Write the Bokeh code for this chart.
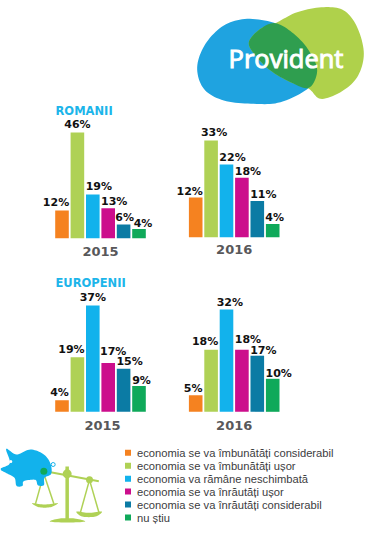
from bokeh.plotting import figure
from bokeh.models import Range1d
from bokeh.embed import file_html
from bokeh.resources import INLINE
from bokeh.core.properties import value
import numpy as np

# ---- data ----
categories = ["economia se va îmbunătăți considerabil", "economia se va îmbunătăți ușor",
              "economia va rămâne neschimbată", "economia se va înrăutăți ușor",
              "economia se va înrăutăți considerabil", "nu știu"]
colors = ["#f58220", "#afd155", "#12b2ec", "#cc0e8c", "#0b7ba4", "#0fa95a"]
ro15_labels = ["12%", "46%", "19%", "13%", "6%", "4%"]
ro15_values = [12, 46, 19, 13, 6, 4]
ro16_labels = ["12%", "33%", "22%", "18%", "11%", "4%"]
ro16_values = [12, 29.3, 22, 18, 11, 4]
eu15_labels = ["4%", "19%", "37%", "17%", "15%", "9%"]
eu15_values = [4, 19, 37, 17, 15, 9]
eu16_labels = ["5%", "18%", "32%", "18%", "17%", "10%"]
eu16_values = [5, 18.8, 31, 18.8, 17, 10]

W, H = 377, 535
p = figure(width=W, height=H, output_backend="svg", toolbar_location=None,
           x_range=Range1d(0, W), y_range=Range1d(H, 0), min_border=0,
           outline_line_color=None, background_fill_color="white")
p.margin = (0, 0, 0, 0)
p.axis.visible = False
p.grid.visible = False

def smooth(pts, n=10):
    pts = np.array(pts, float)
    out = []
    m = len(pts)
    for i in range(m):
        a, b, c, d = pts[i-1], pts[i], pts[(i+1) % m], pts[(i+2) % m]
        for t in np.linspace(0, 1, n, endpoint=False):
            out.append(0.5*((2*b)+(-a+c)*t+(2*a-5*b+4*c-d)*t*t+(-a+3*b-3*c+d)*t**3))
    return np.array(out)

def shape(pts, color, ox=180, oy=0, s=3):
    q = smooth(pts)
    p.patch(q[:, 0]/s+ox, q[:, 1]/s+oy, fill_color=color, line_color=None)

# logo (zoom coordinates)
shape([(285,68),(200,55),(130,75),(75,130),(50,200),(70,265),(130,300),(220,310),(300,305),(385,262),(410,210),(385,150),(340,100)], "#1fa3e0")
shape([(285,68),(350,35),(430,20),(490,30),(530,80),(550,160),(530,230),(480,275),(420,295),(385,265),(330,245),(270,210),(225,165),(205,125),(240,85)], "#afd14b")
shape([(285,68),(340,100),(385,150),(410,210),(385,262),(330,245),(270,210),(225,165),(205,125),(240,85)], "#2f9e4f")
p.text([285.5], [57], text=["Provident"], text_color="white", text_font=value("Open Sans"), text_font_size="25.5px",
       text_align="center", text_baseline="middle", text_font_style="normal",
       text_outline_color="white")

# panels
pitch = 15.4
px_per = {"ro15": 2.3, "ro16": 3.3, "eu15": 2.87, "eu16": 3.3}
panels = [
    ("ro15", ro15_values, ro15_labels, 61.5, 237.7, [-6,0,6,6,1,4], [0.9,0,0.6,-0.7,-0.7,-2], [100, 250.7, "2015"]),
    ("ro16", ro16_values, ro16_labels, 195.2, 236.7, [-6,3,6,6,6,2], [-1,0.6,-0.4,-1.4,-0.7,-1], [233.7, 249, "2016"]),
    ("eu15", eu15_values, eu15_labels, 61.5, 411.3, [-2.5,-6,0,5,6,2.5], [0,0.3,0.3,3.7,-0.7,-1.7], [102, 425, "2015"]),
    ("eu16", eu16_values, eu16_labels, 195.2, 411.3, [-2.5,-6,3.3,6,6,6], [-0.7,0.6,-0.4,2.3,-2.7,-2], [233.7, 425, "2016"]),
]
for name, vals, labels, x0, base, dx, dy, year in panels:
    k = px_per[name]
    p.extra_y_ranges[name] = Range1d((base-H)/k, base/k)
    p.extra_x_ranges[name] = Range1d(-x0/pitch, (W-x0)/pitch)
    idx = list(range(6))
    p.vbar(x=idx, top=vals, bottom=0, width=13.6/pitch, fill_color=colors, line_color=None,
           x_range_name=name, y_range_name=name)
    p.text(x=idx, y=vals, text=labels, x_offset=dx, y_offset=[-1-d for d in dy], text_align="center", text_baseline="bottom",
           text_font=value("DejaVu Sans"), text_font_style="bold", text_font_size="11px", text_color="#111111",
           x_range_name=name, y_range_name=name)
    p.text([year[0]], [year[1]], text=[year[2]], text_align="center", text_baseline="middle",
           text_font=value("DejaVu Sans"), text_font_style="bold", text_font_size="13px", text_color="#58585a")

p.text([55, 55], [110, 282], text=["ROMANII", "EUROPENII"], text_align="left", text_baseline="middle",
       text_font=value("DejaVu Sans"), text_font_style="bold", text_font_size="11.5px", text_color="#1cb5ea")

# legend
leg_y = [452.3, 465.3, 478.3, 491, 504, 517]
p.scatter([127.5]*6, leg_y, size=6, marker="square", fill_color=colors, line_color=None)
p.text([136.5]*6, leg_y, text=categories, text_align="left", text_baseline="middle",
       text_font=value("Liberation Sans"), text_font_size="11.2px", text_color="#3c3c3e")

# pig and scale (coordinates of the 3x crop at 0,440)
ZX = lambda v: np.array(v, float)/3
ZY = lambda v: np.array(v, float)/3+440
g = "#afd155"
# pans
p.line(ZX([130,105]), ZY([100,190]), line_color=g, line_width=1.5)
p.line(ZX([130,160]), ZY([100,190]), line_color=g, line_width=1.5)
p.line(ZX([267,240]), ZY([118,215]), line_color=g, line_width=1.5)
p.line(ZX([267,295]), ZY([118,215]), line_color=g, line_width=1.5)
shape([(95,188),(132,192),(172,188),(150,200),(115,200)], g, ox=0, oy=440)
shape([(228,213),(265,217),(304,213),(285,228),(245,228)], g, ox=0, oy=440)
shape([(148,243),(178,234),(222,234),(254,243),(200,246)], g, ox=0, oy=440)
p.line(ZX([110,295]), ZY([88,122]), line_color=g, line_width=2)
p.line(ZX([200,200]), ZY([78,238]), line_color=g, line_width=3.5)
p.scatter(ZX([200,267]), ZY([100,118]), size=[9,7], marker="circle", fill_color=g, line_color=None)
# pig
shape([(0,85),(28,68),(17,25),(48,42),(90,27),(130,42),(150,70),(152,100),(132,112),(130,134),(112,134),(104,118),(70,122),(66,136),(48,136),(42,112),(18,98)], "#12b2ec", ox=0, oy=440)
p.scatter(ZX([130]), ZY([92]), size=7, marker="circle", fill_color="#0fa95a", line_color=None)
p.scatter(ZX([31]), ZY([63]), size=3, marker="circle", fill_color="white", line_color=None)
p.scatter(ZX([158]), ZY([72]), size=4, marker="circle", fill_color=None, line_color="#12b2ec", line_width=1)

open("out.html", "w").write(file_html(p, INLINE))
